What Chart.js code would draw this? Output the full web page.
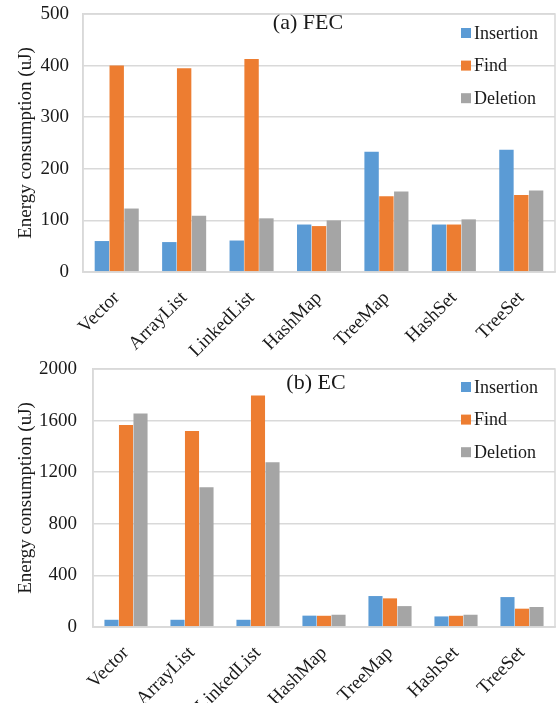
<!DOCTYPE html>
<html>
<head>
<meta charset="utf-8">
<script src="https://cdn.jsdelivr.net/npm/chart.js@4.4.0/dist/chart.umd.min.js"></script>
<style>
  html, body { margin: 0; padding: 0; background: #fff; }
  .wrap { position: absolute; left: 0; width: 559px; }
  #top { top: 0; height: 362px; }
  #bottom { top: 345px; height: 358px; }
</style>
</head>
<body>
<div class="wrap" id="top"><canvas id="fec"></canvas></div>
<div class="wrap" id="bottom"><canvas id="ec"></canvas></div>
<script>
const categories = ['Vector', 'ArrayList', 'LinkedList', 'HashMap', 'TreeMap', 'HashSet', 'TreeSet'];
const seriesNames = ['Insertion', 'Find', 'Deletion'];
const seriesColors = ['#5B9BD5', '#ED7D31', '#A5A5A5'];

// (a) FEC
const fecInsertion = [60, 58, 61, 92, 233, 92, 237];
const fecFind = [400, 395, 413, 89, 147, 92, 149];
const fecDeletion = [123, 109, 104, 100, 156, 102, 158];
const fecTicks = [0, 100, 200, 300, 400, 500];

// (b) EC
const ecInsertion = [56, 56, 56, 88, 240, 82, 232];
const ecFind = [1566, 1519, 1795, 87, 222, 87, 142];
const ecDeletion = [1656, 1083, 1277, 95, 162, 95, 155];
const ecTicks = [0, 400, 800, 1200, 1600, 2000];

const serif = 'Liberation Serif, Times New Roman, serif';
const textColor = '#1a1a1a';
const gridColor = '#D9D9D9';

const framePlugin = {
  id: 'frame',
  afterDraw(chart, args, opts) {
    const { ctx, chartArea: a } = chart;
    ctx.save();
    // plot frame
    ctx.strokeStyle = gridColor;
    ctx.lineWidth = 1.5;
    ctx.strokeRect(a.left, a.top, a.right - a.left, a.bottom - a.top);
    // panel title
    ctx.fillStyle = textColor;
    ctx.font = '22px ' + serif;
    ctx.textAlign = 'center';
    ctx.textBaseline = 'middle';
    ctx.fillText(opts.title, opts.titleX, a.top + opts.titleDy);
    // legend inside plot, top right
    ctx.font = '18px ' + serif;
    ctx.textAlign = 'left';
    chart.data.datasets.forEach((ds, i) => {
      const y = a.top + opts.legendDy + i * 32.6;
      ctx.fillStyle = ds.backgroundColor;
      ctx.fillRect(opts.legendX, y - 5, 10, 10);
      ctx.fillStyle = textColor;
      ctx.fillText(ds.label, opts.legendX + 13, y + 1);
    });
    ctx.restore();
  }
};

function makeChart(id, values, ticks, cfg) {
  return new Chart(document.getElementById(id), {
    type: 'bar',
    data: {
      labels: categories,
      datasets: values.map((v, i) => ({
        label: seriesNames[i],
        data: v,
        backgroundColor: seriesColors[i],
        borderWidth: 0,
        categoryPercentage: 0.66,
        barPercentage: 0.97,
      })),
    },
    options: {
      responsive: true,
      maintainAspectRatio: false,
      animation: false,
      events: [],
      layout: { padding: { top: cfg.padTop, right: 4, left: 0, bottom: 0 } },
      scales: {
        x: {
          grid: { display: false, drawTicks: false },
          border: { color: gridColor, width: 1.5 },
          ticks: {
            color: textColor,
            font: { family: serif, size: 19 },
            minRotation: 45,
            maxRotation: 45,
            padding: cfg.xPad,
          },
          afterFit(scale) {
            scale.height = cfg.xHeight;
            scale.paddingLeft = 0;
            scale.paddingRight = 0;
          },
        },
        y: {
          min: 0,
          max: ticks[ticks.length - 1],
          afterBuildTicks(scale) { scale.ticks = ticks.map(v => ({ value: v })); },
          grid: { color: gridColor, lineWidth: 1.5, drawTicks: false },
          border: { color: gridColor, width: 1.5 },
          ticks: {
            color: textColor,
            font: { family: serif, size: 19 },
            padding: cfg.tickPad,
            callback: v => String(v),
          },
          title: {
            display: true,
            text: 'Energy consumption (uJ)',
            color: textColor,
            font: { family: serif, size: 19 },
            padding: { top: 15, bottom: 0 },
          },
          afterFit(scale) {
            scale.width = cfg.yWidth;
            scale.paddingTop = 0;
            scale.paddingBottom = 0;
          },
        },
      },
      plugins: {
        legend: { display: false },
        tooltip: { enabled: false },
        frame: {
          title: cfg.title,
          titleX: cfg.titleX,
          titleDy: cfg.titleDy,
          legendX: 461,
          legendDy: cfg.legendDy,
        },
      },
    },
    plugins: [framePlugin],
  });
}

makeChart('fec', [fecInsertion, fecFind, fecDeletion], fecTicks, {
  padTop: 14, xHeight: 90, yWidth: 83, tickPad: 14, xPad: 15,
  title: '(a) FEC', titleX: 308, titleDy: 9, legendDy: 19,
});

makeChart('ec', [ecInsertion, ecFind, ecDeletion], ecTicks, {
  padTop: 24, xHeight: 76, yWidth: 93, tickPad: 16, xPad: 15,
  title: '(b) EC', titleX: 316, titleDy: 14, legendDy: 18,
});
</script>
</body>
</html>
